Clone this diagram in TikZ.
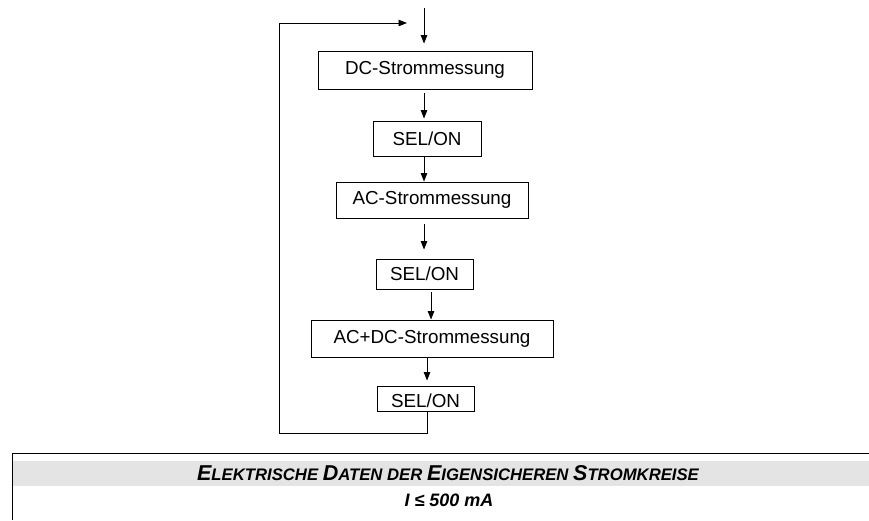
\documentclass[tikz,border=0pt]{standalone}
\usepackage{fontspec}
\setmainfont{Liberation Sans}
\usetikzlibrary{arrows.meta,calc}
\definecolor{bandgray}{HTML}{E4E4E4}
\newcommand\capA[1]{{\fontsize{21.5}{21.5}\selectfont #1}}
\newcommand\capB[1]{{\fontsize{16.7}{17}\selectfont #1}}
\begin{document}
\begin{tikzpicture}[x=1pt,y=-1pt,
  box/.style={draw,line width=0.9pt,inner sep=0pt,font=\fontsize{18.8}{19}\selectfont},
  arr/.style={line width=0.9pt,-{Stealth[length=8.5pt,width=6.5pt,inset=0pt]}},
  ln/.style={line width=0.9pt}]
\useasboundingbox (0,0) rectangle (869,520);
% column coordinates
\coordinate (entry) at (424,8);
\coordinate (c1) at (424,0);
\coordinate (c2) at (431,0);
\coordinate (c3) at (427,0);
% boxes
\node[box,minimum width=214pt,minimum height=38pt] (dc) at (425,70) {DC-Strommessung};
\node[box,minimum width=108pt,minimum height=35pt] (sel1) at (427,138.5) {SEL/ON};
\node[box,minimum width=192pt,minimum height=36pt] (ac) at (432,200) {AC-Strommessung};
\node[box,minimum width=97pt,minimum height=30pt] (sel2) at (424.5,274) {SEL/ON};
\node[box,minimum width=242pt,minimum height=37pt] (acdc) at (432,338.5) {AC+DC-Strommessung};
\node[box,minimum width=97pt,minimum height=25pt] (sel3) at (425.5,398.5) {};
\node[font=\fontsize{18.8}{19}\selectfont,inner sep=0pt] (sel3t) at (425.5,401) {SEL/ON};
% arrows
\draw[arr,shorten >=7pt] (entry) -- (entry |- dc.north);
\draw[arr,shorten <=4pt,shorten >=2pt] (dc.south -| c1) -- (sel1.north -| c1);
\draw[arr] (sel1.south -| c1) -- (ac.north -| c1);
\draw[arr,shorten <=6pt,shorten >=9pt] (ac.south -| c1) -- (sel2.north -| c1);
\draw[arr] ([yshift=-3pt]sel2.south -| c2) -- (acdc.north -| c2);
\draw[arr,shorten >=5pt] (acdc.south -| c3) -- (sel3.north -| c3);
% loop back
\coordinate (lb) at (279,433);
\coordinate (lt) at (279,23);
\coordinate (lend) at (407,23);
\draw[ln] (sel3.south -| c3) |- (lb) -- (lt);
\draw[arr] (lt) -- (lend);
% table
\fill[bandgray] (12.5,461) rectangle (869,486);
\draw[line width=1pt] (869,453) -- (12,453) -- (12,520);
\node[anchor=base,inner sep=0pt,font=\bfseries\itshape\fontsize{16.7}{17}\selectfont] (hdr) at (448,480)
  {\capA{E}\capB{LEKTRISCHE} \capA{D}\capB{ATEN DER} \capA{E}\capB{IGENSICHEREN} \capA{S}\capB{TROMKREISE}};
\node[anchor=base,inner sep=0pt,font=\bfseries\itshape\fontsize{18}{18}\selectfont] (cur) at (449,506)
  {I ≤ 500 mA};
\end{tikzpicture}
\end{document}
